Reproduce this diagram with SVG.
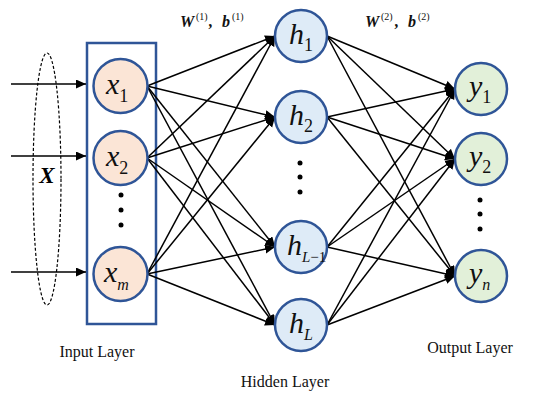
<svg xmlns="http://www.w3.org/2000/svg" width="550" height="400" viewBox="0 0 550 400">
<style>
.nd{stroke:#2F5597;stroke-width:2.5}
.in{fill:#FBE5D6}
.hd{fill:#DEEBF7}
.ou{fill:#E2F0D9}
.v{font-family:"Liberation Serif",serif;font-style:italic;font-size:30px;fill:#111}
.sub{font-style:normal;font-size:18px}
.sm{font-style:italic;font-size:16px}
.lab{font-family:"Liberation Serif",serif;font-size:16px;fill:#111;text-anchor:middle}
.w{font-family:"Liberation Serif",serif;font-style:italic;font-weight:bold;font-size:16px;fill:#111}
.sup{font-style:normal;font-weight:normal;font-size:10px}
.c{stroke:#000;stroke-width:1.5;fill:none;marker-end:url(#ah)}
.dot{fill:#000}
</style>
<defs>
<marker id="ah" markerUnits="userSpaceOnUse" markerWidth="11" markerHeight="10" refX="10" refY="4.5" orient="auto">
<path d="M0,0 L10,4.5 L0,9 Z" fill="#000"/>
</marker>
</defs>
<rect width="550" height="400" fill="#fff"/>

<g id="input-vector">
<ellipse cx="47" cy="179" rx="14" ry="126" fill="none" stroke="#000" stroke-width="1.2" stroke-dasharray="3,2"/>
<text x="47" y="183" text-anchor="middle" style="font-family:'Liberation Serif',serif;font-style:italic;font-weight:bold;font-size:23px">X</text>
</g>

<g id="input-layer">
<rect x="87" y="43" width="69" height="281" fill="none" stroke="#2F5597" stroke-width="2.5"/>
</g>

<g id="connectors">
<line class="c" x1="11" y1="84" x2="86" y2="84"/>
<line class="c" x1="11" y1="156" x2="86" y2="156"/>
<line class="c" x1="11" y1="272" x2="86" y2="272"/>

<line class="c" x1="147" y1="86" x2="275" y2="36"/>
<line class="c" x1="147" y1="86" x2="275" y2="117"/>
<line class="c" x1="147" y1="86" x2="275" y2="247"/>
<line class="c" x1="147" y1="86" x2="275" y2="325"/>
<line class="c" x1="147" y1="158" x2="275" y2="36"/>
<line class="c" x1="147" y1="158" x2="275" y2="117"/>
<line class="c" x1="147" y1="158" x2="275" y2="247"/>
<line class="c" x1="147" y1="158" x2="275" y2="325"/>
<line class="c" x1="147" y1="274" x2="275" y2="36"/>
<line class="c" x1="147" y1="274" x2="275" y2="117"/>
<line class="c" x1="147" y1="274" x2="275" y2="247"/>
<line class="c" x1="147" y1="274" x2="275" y2="325"/>

<line class="c" x1="327" y1="36" x2="455" y2="89"/>
<line class="c" x1="327" y1="36" x2="455" y2="159"/>
<line class="c" x1="327" y1="36" x2="455" y2="276"/>
<line class="c" x1="327" y1="117" x2="455" y2="89"/>
<line class="c" x1="327" y1="117" x2="455" y2="159"/>
<line class="c" x1="327" y1="117" x2="455" y2="276"/>
<line class="c" x1="327" y1="247" x2="455" y2="89"/>
<line class="c" x1="327" y1="247" x2="455" y2="159"/>
<line class="c" x1="327" y1="247" x2="455" y2="276"/>
<line class="c" x1="327" y1="325" x2="455" y2="89"/>
<line class="c" x1="327" y1="325" x2="455" y2="159"/>
<line class="c" x1="327" y1="325" x2="455" y2="276"/>
</g>

<g id="x1"><circle class="nd in" cx="120.5" cy="86" r="27"/><text class="v" x="106" y="94">x<tspan class="sub" dy="8">1</tspan></text></g>
<g id="x2"><circle class="nd in" cx="120.5" cy="158" r="27"/><text class="v" x="106" y="166">x<tspan class="sub" dy="8">2</tspan></text></g>
<g id="x-dots"><circle class="dot" cx="121" cy="195" r="2.5"/><circle class="dot" cx="121" cy="210" r="2.5"/><circle class="dot" cx="121" cy="225" r="2.5"/></g>
<g id="xm"><circle class="nd in" cx="120.5" cy="274" r="27"/><text class="v" x="104" y="282">x<tspan class="sub sm" dy="8">m</tspan></text></g>

<g id="h1"><circle class="nd hd" cx="301" cy="36" r="26"/><text class="v" x="289" y="44">h<tspan class="sub" dy="7">1</tspan></text></g>
<g id="h2"><circle class="nd hd" cx="301" cy="117" r="26"/><text class="v" x="289" y="125">h<tspan class="sub" dy="7">2</tspan></text></g>
<g id="h-dots"><circle class="dot" cx="300" cy="163" r="2.5"/><circle class="dot" cx="300" cy="177" r="2.5"/><circle class="dot" cx="300" cy="192" r="2.5"/></g>
<g id="hL-1"><circle class="nd hd" cx="301" cy="247" r="26"/><text class="v" x="287" y="255">h<tspan class="sub sm" dy="7" style="font-size:15px">L</tspan><tspan class="sub" style="font-size:15px">−1</tspan></text></g>
<g id="hL"><circle class="nd hd" cx="301" cy="325" r="26"/><text class="v" x="289" y="333">h<tspan class="sub sm" dy="7">L</tspan></text></g>

<g id="y1"><circle class="nd ou" cx="481" cy="89" r="26"/><text class="v" x="469" y="96">y<tspan class="sub" dy="7">1</tspan></text></g>
<g id="y2"><circle class="nd ou" cx="481" cy="159" r="26"/><text class="v" x="469" y="166">y<tspan class="sub" dy="7">2</tspan></text></g>
<g id="y-dots"><circle class="dot" cx="480" cy="200" r="2.5"/><circle class="dot" cx="480" cy="214" r="2.5"/><circle class="dot" cx="480" cy="229" r="2.5"/></g>
<g id="yn"><circle class="nd ou" cx="481" cy="276" r="26"/><text class="v" x="469" y="283">y<tspan class="sub sm" dy="7">n</tspan></text></g>

<g id="weights">
<text class="w" x="180" y="27">W<tspan class="sup" x="196" dy="-7">(1)</tspan><tspan x="209" dy="7">,</tspan><tspan x="222">b</tspan><tspan class="sup" x="232" dy="-7">(1)</tspan></text>
<text class="w" x="365" y="27">W<tspan class="sup" x="381" dy="-7">(2)</tspan><tspan x="395" dy="7">,</tspan><tspan x="408">b</tspan><tspan class="sup" x="418" dy="-7">(2)</tspan></text>
</g>

<g id="labels">
<text class="lab" x="97" y="357">Input Layer</text>
<text class="lab" x="285" y="387">Hidden Layer</text>
<text class="lab" x="470" y="353">Output Layer</text>
</g>
</svg>
